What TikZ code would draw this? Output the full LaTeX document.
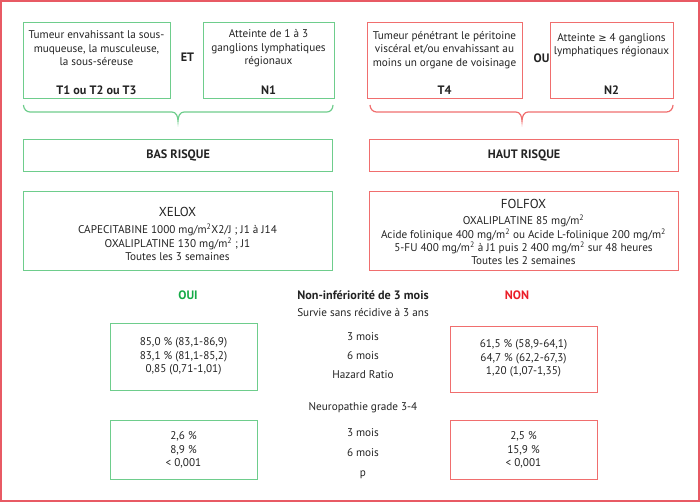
\documentclass[tikz,border=0pt]{standalone}
\usepackage{fontspec}
\setmainfont{PT Sans}
\newfontfamily\symfont{DejaVu Sans}
\definecolor{gbox}{RGB}{110,205,140}
\definecolor{rbox}{RGB}{240,110,110}
\definecolor{framec}{RGB}{232,90,100}
\definecolor{ouig}{RGB}{20,170,70}
\definecolor{nonr}{RGB}{235,30,40}
\definecolor{txtc}{RGB}{35,35,35}
\newcommand{\sq}{\textsuperscript{2}}
\begin{document}
\begin{tikzpicture}[x=1pt,y=-1pt,
  gboxst/.style={draw=gbox, line width=1.2pt, inner sep=0, anchor=north west},
  rboxst/.style={draw=rbox, line width=1.2pt, inner sep=0, anchor=north west},
  txt/.style={font=\fontsize{11.2}{13.4}\selectfont, align=center, inner sep=0, text=txtc},
  bld/.style={font=\fontsize{12.2}{13}\selectfont\bfseries, align=center, inner sep=0, text=txtc},
  ttl/.style={font=\fontsize{13}{14}\selectfont, align=center, inner sep=0, text=txtc},
  brc/.style={line width=1.2pt}]
\useasboundingbox (0,0) rectangle (700,502);
\draw[framec, line width=1.8pt] (0.9,0.9) rectangle (699.1,501.1);

% top boxes
\node[gboxst, minimum width=147, minimum height=76] (t1box) at (23,22) {};
\node[gboxst, minimum width=131, minimum height=76] (n1box) at (203,22) {};
\node[rboxst, minimum width=155, minimum height=76] (t4box) at (367,22) {};
\node[rboxst, minimum width=123, minimum height=76] (n2box) at (550,22) {};

\node[txt] (t1txt) at (96.5,48.5) {Tumeur envahissant la sous-\\muqueuse, la musculeuse,\\la sous-séreuse};
\node[bld] (t1lab) at (96.5,90) {T1 ou T2 ou T3};
\node[bld] (et) at (187.5,57.5) {ET};
\node[txt] (n1txt) at (268.5,48.5) {Atteinte de 1 à 3\\ganglions lymphatiques\\régionaux};
\node[bld] (n1lab) at (268.5,90) {N1};

\node[txt] (t4txt) at (444.5,50) {Tumeur pénétrant le péritoine\\viscéral et/ou envahissant au\\moins un organe de voisinage};
\node[bld] (t4lab) at (444.5,90) {T4};
\node[bld] (ou) at (541.5,58) {OU};
\node[txt] (n2txt) at (611.5,45) {Atteinte {\symfont\fontsize{10}{13}\selectfont ≥} 4 ganglions\\lymphatiques régionaux};
\node[bld] (n2lab) at (611.5,90) {N2};

% braces
\draw[gbox, brc] (23.5,105) to[out=-90,in=180] (30,112) -- (172,112) to[out=0,in=90] (178,121) to[out=90,in=180] (184,112) -- (327,112) to[out=0,in=-90] (333,105);
\draw[rbox, brc] (370,105) to[out=-90,in=180] (376.5,112) -- (516,112) to[out=0,in=90] (522,121) to[out=90,in=180] (528,112) -- (666.5,112) to[out=0,in=-90] (673,105);

% risk boxes
\node[gboxst, minimum width=309, minimum height=32] (basbox) at (23,139) {};
\node[bld] (bas) at (basbox.center) {BAS RISQUE};
\node[rboxst, minimum width=309, minimum height=32] (hautbox) at (369,139) {};
\node[bld] (haut) at (hautbox.center) {HAUT RISQUE};

% treatment boxes
\node[gboxst, minimum width=309, minimum height=79] (xelbox) at (23,191) {};
\node[ttl] (xelox) at (177.5,212) {XELOX};
\node[txt] (xeltxt) at (177.5,242.5) {CAPECITABINE 1000 mg/m\sq X2/J ; J1 à J14\\OXALIPLATINE 130 mg/m\sq\ ; J1\\Toutes les 3 semaines};
\node[rboxst, minimum width=309, minimum height=79] (folbox) at (369,191) {};
\node[ttl] (folfox) at (523.5,204) {FOLFOX};
\node[txt] (foltxt) at (523.5,240) {OXALIPLATINE 85 mg/m\sq\\Acide folinique 400 mg/m\sq\ ou Acide L-folinique 200 mg/m\sq\\5-FU 400 mg/m\sq\ à J1 puis 2 400 mg/m\sq\ sur 48 heures\\Toutes les 2 semaines};

% results header
\node[bld, text=ouig] (oui) at (188,295) {OUI};
\node[bld] (noninf) at (363,295) {Non-infériorité de 3 mois};
\node[bld, text=nonr] (non) at (517,295) {NON};
\node[txt] (survie) at (363,313) {Survie sans récidive à 3 ans};

% survival boxes
\node[gboxst, minimum width=147, minimum height=67] (gs) at (110,323) {};
\node[txt] (gstxt) at (183.5,356.5) {85,0 \% (83,1-86,9)\\83,1 \% (81,1-85,2)\\0,85 (0,71-1,01)};
\node[rboxst, minimum width=147, minimum height=66] (rs) at (450,326) {};
\node[txt] (rstxt) at (523.5,358.5) {61,5 \% (58,9-64,1)\\64,7 \% (62,2-67,3)\\1,20 (1,07-1,35)};
\node[txt] (m3a) at (363,337) {3 mois};
\node[txt] (m6a) at (363,355.5) {6 mois};
\node[txt] (hr) at (363,374.5) {Hazard Ratio};

% neuropathy
\node[txt] (neuro) at (363,408) {Neuropathie grade 3-4};
\node[gboxst, minimum width=147, minimum height=59] (gn) at (110,420) {};
\node[txt] (gntxt) at (183.5,450) {2,6 \%\\8,9 \%\\< 0,001};
\node[rboxst, minimum width=147, minimum height=59] (rn) at (450,420) {};
\node[txt] (rntxt) at (523.5,450) {2,5 \%\\15,9 \%\\< 0,001};
\node[txt] (m3b) at (363,432.5) {3 mois};
\node[txt] (m6b) at (363,453) {6 mois};
\node[txt] (pval) at (363,474.5) {p};
\end{tikzpicture}
\end{document}
